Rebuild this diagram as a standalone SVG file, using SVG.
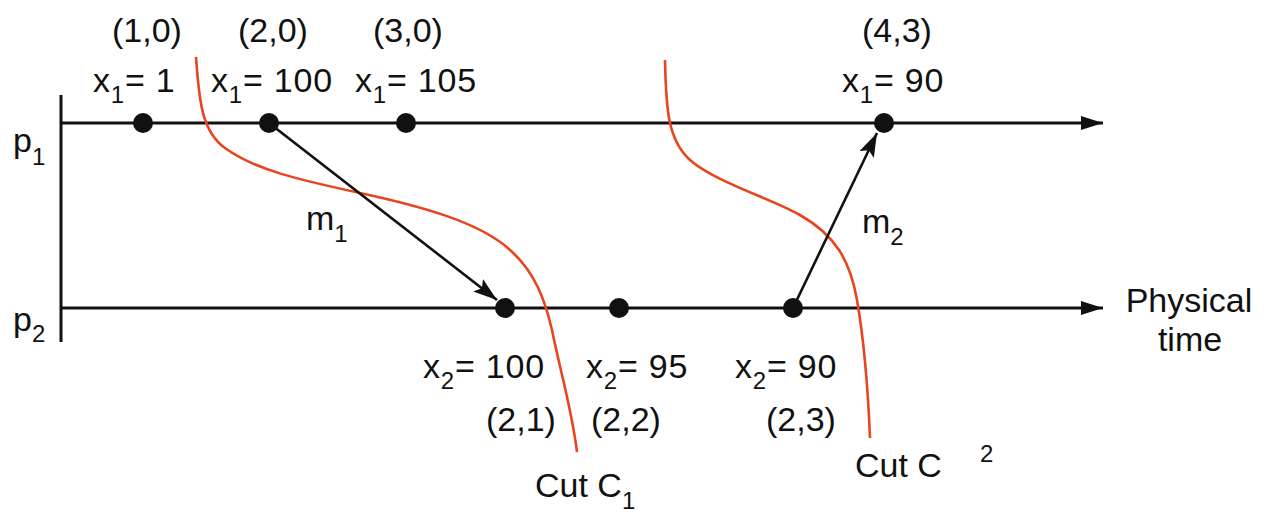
<svg xmlns="http://www.w3.org/2000/svg" width="1270" height="514" viewBox="0 0 1270 514">
<style>
text{font-family:"Liberation Sans",Arial,sans-serif;font-size:34px;fill:#111}
.sub{font-size:24px}
.xl{letter-spacing:0.8px}
.axis{stroke:#111;stroke-width:3;fill:none}
.msg{stroke:#111;stroke-width:2.6;fill:none}
.cut{stroke:#E8451E;stroke-width:2.6;fill:none}
.dot{fill:#111}
</style>
<defs>
<marker id="ah" markerUnits="userSpaceOnUse" markerWidth="24" markerHeight="16" refX="22" refY="7" orient="auto">
<path d="M0,0 L22,7 L0,14 z" fill="#111"/>
</marker>
<marker id="mh" markerUnits="userSpaceOnUse" markerWidth="26" markerHeight="18" refX="24" refY="8" orient="auto">
<path d="M0,0 L24,8 L0,16 L5,8 z" fill="#111"/>
</marker>
</defs>
<rect width="1270" height="514" fill="#fff"/>
<g id="axes">
<line class="axis" x1="61" y1="95" x2="61" y2="342"/>
<line class="axis" x1="61" y1="123" x2="1103" y2="123" marker-end="url(#ah)"/>
<line class="axis" x1="61" y1="308" x2="1103" y2="308" marker-end="url(#ah)"/>
<text id="p1" x="13" y="152">p<tspan class="sub" dy="13">1</tspan></text>
<text id="p2" x="13" y="331">p<tspan class="sub" dy="11">2</tspan></text>
<text id="physical" x="1189" y="312" text-anchor="middle">Physical</text>
<text id="time" x="1190" y="351" text-anchor="middle">time</text>
</g>
<g id="cuts">
<path class="cut" d="M196,57 C199,95 200,130 225,148 C255,170 300,180 360,193 C420,206 480,222 510,250 C535,272 545,300 552,330 C560,370 572,410 577,452"/>
<path class="cut" d="M665,60 C666,110 668,140 690,160 C715,182 770,198 800,215 C835,235 850,260 857,300 C864,340 868,390 870,438"/>
<text x="535" y="497">Cut C<tspan class="sub" dy="12">1</tspan></text>
<text x="855" y="477">Cut C</text>
<text class="sub" x="980" y="462">2</text>
</g>
<g id="connectors">
<line class="msg" x1="269" y1="123" x2="497" y2="300" marker-end="url(#mh)"/>
<line class="msg" x1="793" y1="308" x2="877" y2="133" marker-end="url(#mh)"/>
<text x="306" y="230">m<tspan class="sub" dy="12">1</tspan></text>
<text x="862" y="233">m<tspan class="sub" dy="12">2</tspan></text>
</g>
<g id="e11">
<circle class="dot" cx="143" cy="123" r="10"/>
<text x="147" y="42" text-anchor="middle">(1,0)</text>
<text class="xl" x="93" y="92">x<tspan class="sub" dy="11">1</tspan><tspan dy="-11">= 1</tspan></text>
</g>
<g id="e12">
<circle class="dot" cx="269" cy="123" r="10"/>
<text x="273" y="42" text-anchor="middle">(2,0)</text>
<text class="xl" x="211" y="92">x<tspan class="sub" dy="11">1</tspan><tspan dy="-11">= 100</tspan></text>
</g>
<g id="e13">
<circle class="dot" cx="406" cy="123" r="10"/>
<text x="408" y="42" text-anchor="middle">(3,0)</text>
<text class="xl" x="355" y="92">x<tspan class="sub" dy="11">1</tspan><tspan dy="-11">= 105</tspan></text>
</g>
<g id="e14">
<circle class="dot" cx="884" cy="123" r="10"/>
<text x="897" y="42" text-anchor="middle">(4,3)</text>
<text class="xl" x="842" y="92">x<tspan class="sub" dy="11">1</tspan><tspan dy="-11">= 90</tspan></text>
</g>
<g id="e21">
<circle class="dot" cx="505" cy="308" r="10"/>
<text class="xl" x="423" y="378">x<tspan class="sub" dy="11">2</tspan><tspan dy="-11">= 100</tspan></text>
<text x="521" y="431" text-anchor="middle">(2,1)</text>
</g>
<g id="e22">
<circle class="dot" cx="619" cy="308" r="10"/>
<text class="xl" x="586" y="378">x<tspan class="sub" dy="11">2</tspan><tspan dy="-11">= 95</tspan></text>
<text x="626" y="431" text-anchor="middle">(2,2)</text>
</g>
<g id="e23">
<circle class="dot" cx="793" cy="308" r="10"/>
<text class="xl" x="735" y="378">x<tspan class="sub" dy="11">2</tspan><tspan dy="-11">= 90</tspan></text>
<text x="801" y="431" text-anchor="middle">(2,3)</text>
</g>
</svg>
